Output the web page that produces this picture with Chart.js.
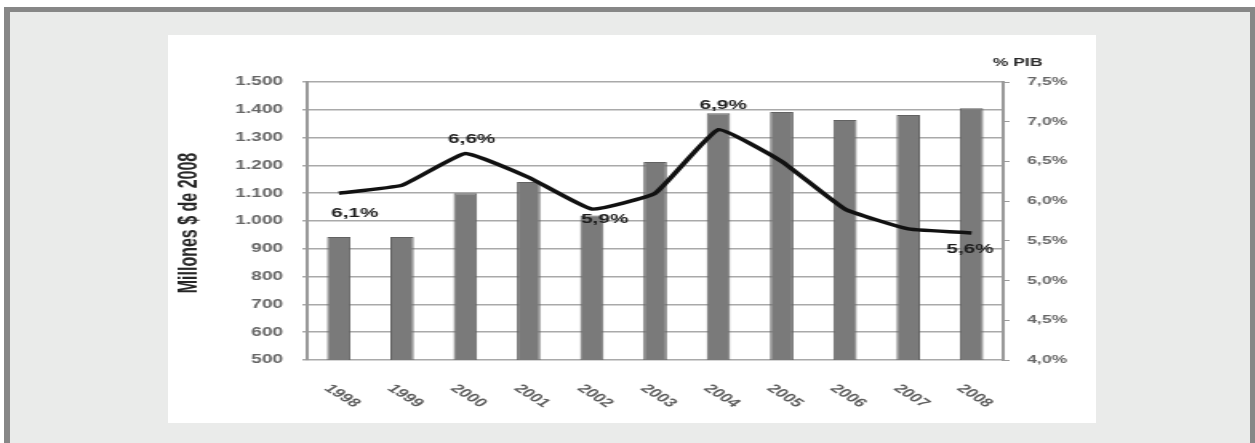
<!DOCTYPE html>
<html>
<head>
<meta charset="utf-8">
<script src="https://cdn.jsdelivr.net/npm/chart.js@4/dist/chart.umd.min.js"></script>
<style>
  html, body { margin: 0; padding: 0; background: #fff; overflow: hidden; }
  #marco {
    position: absolute; left: 4px; top: 7px; width: 1240px; height: 440px;
    background: #eaebea; border: solid #878787; border-width: 5px 6px 0 6px;
  }
  #panel {
    position: absolute; left: 168px; top: 35px; width: 928px; height: 388px;
    background: #fff;
  }
  #grafico { display: block; }
</style>
</head>
<body>
<div id="marco"></div>
<!-- la imagen original está estirada en horizontal: el lienzo se dibuja angosto y se escala -->
<div id="panel"><canvas id="grafico" width="580" height="388" style="width:928px;height:388px"></canvas></div>
<script>
// ── datos ──
const anios = ['1998', '1999', '2000', '2001', '2002', '2003', '2004', '2005', '2006', '2007', '2008'];
const gastoMillones = [942, 942, 1100, 1140, 1020, 1212, 1388, 1392, 1363, 1381, 1406];
const gastoPib = [6.1, 6.2, 6.6, 6.3, 5.9, 6.1, 6.9, 6.5, 5.9, 5.65, 5.6];
const ejeMillones = [500, 600, 700, 800, 900, 1000, 1100, 1200, 1300, 1400, 1500];
const ejePib = [4.0, 4.5, 5.0, 5.5, 6.0, 6.5, 7.0, 7.5];
const puntosRotulados = [0, 2, 4, 6, 10];

const FUENTE = '"Liberation Sans", Arial, sans-serif';

const fmtMiles = v => v >= 1000 ? Math.floor(v / 1000) + '.' + String(v % 1000).padStart(3, '0') : String(v);
const fmtPct = v => v.toFixed(1).replace('.', ',') + '%';

// desplazamiento de cada rótulo respecto a su punto (unidades del lienzo)
const desplazRotulo = {
  0: [10, 20],
  2: [4, -14],
  4: [8, 10],
  6: [3, -24],
  10: [-1, 17],
};

const rotulos = {
  id: 'rotulos',
  afterDatasetsDraw(chart) {
    const ctx = chart.ctx;
    const meta = chart.getDatasetMeta(1);
    ctx.save();
    ctx.font = 'bold 13px ' + FUENTE;
    ctx.fillStyle = '#1c1c1c';
    ctx.textAlign = 'center';
    ctx.textBaseline = 'middle';
    puntosRotulados.forEach(i => {
      const p = meta.data[i];
      const d = desplazRotulo[i];
      ctx.fillText(fmtPct(gastoPib[i]), p.x + d[0], p.y + d[1]);
    });
    ctx.restore();
  },
  afterDraw(chart) {
    const { ctx, chartArea, scales } = chart;
    ctx.save();

    // años inclinados
    ctx.font = 'bold 12px ' + FUENTE;
    ctx.fillStyle = '#5c5c5c';
    ctx.textAlign = 'center';
    ctx.textBaseline = 'middle';
    anios.forEach((a, i) => {
      const x = scales.x.getPixelForValue(i);
      ctx.save();
      ctx.translate(x + 2, chartArea.bottom + 36);
      ctx.rotate(Math.PI / 4);
      ctx.fillText(a, 0, 0);
      ctx.restore();
    });

    // título eje izquierdo
    ctx.save();
    ctx.font = 'bold 16px ' + FUENTE;
    ctx.fillStyle = '#262626';
    ctx.translate(14, (chartArea.top + chartArea.bottom) / 2 + 2);
    ctx.rotate(-Math.PI / 2);
    ctx.fillText('Millones $ de 2008', 0, 0);
    ctx.restore();

    // título eje derecho
    ctx.font = 'bold 11px ' + FUENTE;
    ctx.fillStyle = '#2a2a2a';
    ctx.fillText('% PIB', chartArea.right + 9, chartArea.top - 19);

    ctx.restore();
  }
};

new Chart(document.getElementById('grafico'), {
  type: 'bar',
  data: {
    labels: anios,
    datasets: [
      {
        type: 'bar',
        data: gastoMillones,
        yAxisID: 'y',
        backgroundColor: '#7a7a7a',
        borderColor: '#626262',
        borderWidth: 1,
        barPercentage: 0.37,
        categoryPercentage: 1,
        order: 2,
      },
      {
        type: 'line',
        data: gastoPib,
        yAxisID: 'y1',
        borderColor: '#111',
        borderWidth: 3.5,
        pointRadius: 0,
        tension: 0.12,
        fill: false,
        order: 1,
      },
    ],
  },
  plugins: [rotulos],
  options: {
    responsive: false,
    animation: false,
    devicePixelRatio: 1,
    layout: { padding: { top: 47, bottom: 63, left: 0, right: 0 } },
    plugins: { legend: { display: false }, tooltip: { enabled: false } },
    scales: {
      x: { display: false },
      y: {
        position: 'left',
        min: ejeMillones[0],
        max: ejeMillones[ejeMillones.length - 1],
        afterBuildTicks: s => { s.ticks = ejeMillones.map(v => ({ value: v })); },
        afterFit: s => { s.width = 87; },
        grid: { color: '#a9a9a9', lineWidth: 1.5, tickLength: 3 },
        border: { display: true, color: '#9a9a9a', width: 2 },
        ticks: {
          padding: 12,
          color: '#666',
          font: { family: FUENTE, size: 12, weight: 'bold' },
          callback: v => fmtMiles(v),
        },
      },
      y1: {
        position: 'right',
        min: ejePib[0],
        max: ejePib[ejePib.length - 1],
        afterBuildTicks: s => { s.ticks = ejePib.map(v => ({ value: v })); },
        afterFit: s => { s.width = 58; },
        grid: { drawOnChartArea: false, color: '#9a9a9a', tickLength: 4 },
        border: { display: true, color: '#9a9a9a', width: 2 },
        ticks: {
          padding: 11,
          color: '#666',
          font: { family: FUENTE, size: 11, weight: 'bold' },
          callback: v => fmtPct(v),
        },
      },
    },
  },
});
</script>
</body>
</html>
